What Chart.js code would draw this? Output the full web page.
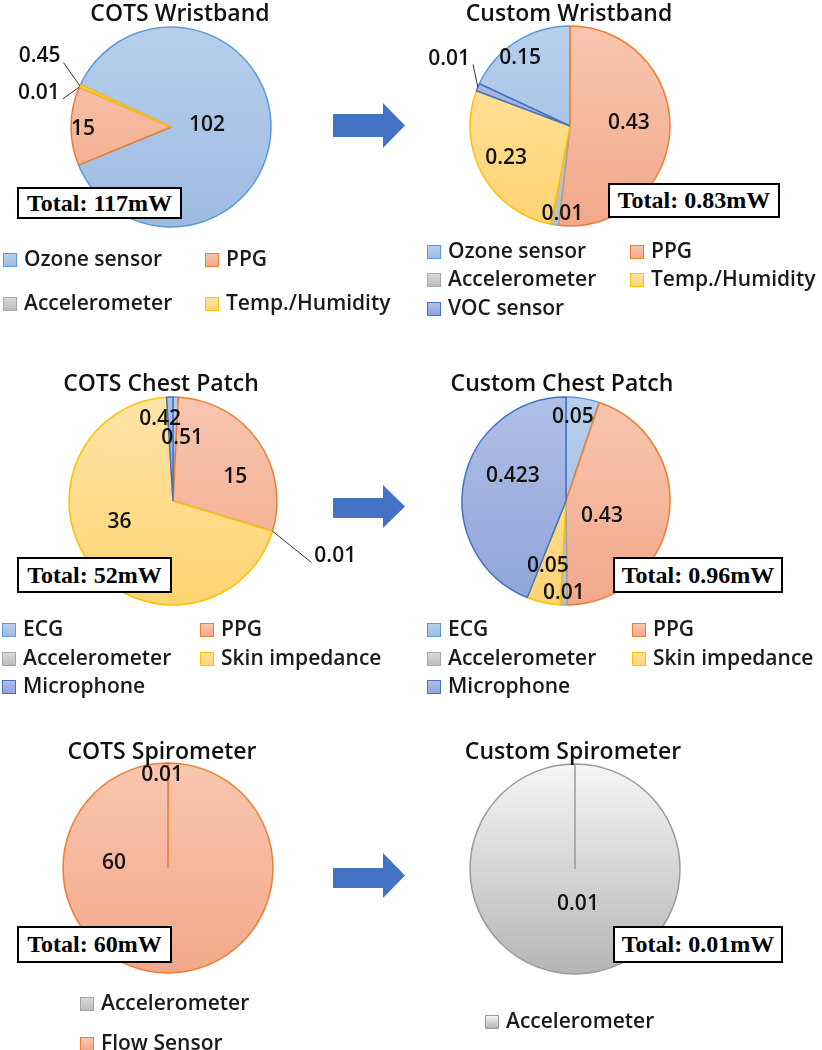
<!DOCTYPE html>
<html>
<head>
<meta charset="utf-8">
<script src="https://cdn.jsdelivr.net/npm/chart.js@4.4.1/dist/chart.umd.min.js"></script>
<style>
body{margin:0;background:#fff;}
#page{position:relative;width:822px;height:1050px;overflow:hidden;font-family:'Open Sans',sans-serif;color:#111;}
#page canvas{position:absolute;}
.title{position:absolute;width:400px;text-align:center;font-size:23px;font-weight:600;line-height:24px;white-space:nowrap;}
.total{position:absolute;box-sizing:border-box;border:2px solid #000;background:#fff;font:bold 24px 'Liberation Serif',serif;display:flex;align-items:center;justify-content:center;color:#000;}
.leg{position:absolute;font-size:21px;font-weight:600;line-height:24px;white-space:nowrap;color:#1a1a1a;}
.leg i{display:inline-block;box-sizing:border-box;width:14px;height:14px;border:1px solid;margin-right:7px;vertical-align:-1px;}
#arrows{position:absolute;left:0;top:0;}
</style>
</head>
<body>
<div id="page"></div>
<script>
// power draw per component (mW)
var wristCotsLabels = ['Ozone sensor', 'PPG', 'Accelerometer', 'Temp./Humidity'];
var wristCotsValues = [102, 15, 0.01, 0.45];
var wristCustomLabels = ['Ozone sensor', 'PPG', 'Accelerometer', 'Temp./Humidity', 'VOC sensor'];
var wristCustomValues = [0.15, 0.43, 0.01, 0.23, 0.01];
var chestLabels = ['ECG', 'PPG', 'Accelerometer', 'Skin impedance', 'Microphone'];
var chestCotsValues = [0.42, 15, 0.01, 36, 0.51];
var chestCustomValues = [0.05, 0.43, 0.01, 0.05, 0.423];
var spiroCotsLabels = ['Accelerometer', 'Flow Sensor'];
var spiroCotsValues = [0.01, 60];
var spiroCustomLabels = ['Accelerometer'];
var spiroCustomValues = [0.01];

var titles = ['COTS Wristband', 'Custom Wristband', 'COTS Chest Patch', 'Custom Chest Patch', 'COTS Spirometer', 'Custom Spirometer'];
var totals = ['Total: 117mW', 'Total: 0.83mW', 'Total: 52mW', 'Total: 0.96mW', 'Total: 60mW', 'Total: 0.01mW'];

// [top of gradient, bottom of gradient, border]
var blue = ['#b8cfec', '#9dbbe2', '#5b9bd5'];
var orange = ['#f8c6b0', '#f2a88a', '#ed7d31'];
var grey = ['#d9d9d9', '#bdbdbd', '#a5a5a5'];
var yellow = ['#ffe4a8', '#ffd471', '#ffc000'];
var navy = ['#b0bfe6', '#8fa4d8', '#4472c4'];
var palette = {
  'Ozone sensor': blue, 'ECG': blue,
  'PPG': orange, 'Flow Sensor': orange,
  'Accelerometer': grey,
  'Temp./Humidity': yellow, 'Skin impedance': yellow,
  'VOC sensor': navy, 'Microphone': navy
};
var silver = ['#f5f6f8', '#b5b5b5', '#9a9a9a'];

// label placement: [fraction of radius along slice middle, dx, dy, leader line]
var panels = [
  {labels: wristCotsLabels, values: wristCotsValues, rot: -65, cx: 171, cy: 127, r: 100,
   tx: 180, ty: 12, box: [17, 187, 165, 32], cols: [3, 205], rows: [258, 302],
   lab: [[0.36, 0, -3], [0.88, 0, 3], [1.3, -13, 18, true], [1.3, -13, -17, true]]},
  {labels: wristCustomLabels, values: wristCustomValues, rot: -65, cx: 570, cy: 126, r: 100,
   tx: 569, ty: 12, box: [608, 183, 172, 35], cols: [427, 630], rows: [250, 278, 307],
   lab: [[0.8, -7, 0], [0.59, 0, -6], [0.89, 6, 0], [0.72, -1, -3], [1.3, -1, -17, true]]},
  {labels: chestLabels, values: chestCotsValues, rot: 0, cx: 173, cy: 501, r: 104,
   tx: 161, ty: 382, box: [17, 557, 155, 36], cols: [2, 200], rows: [628, 657, 685],
   lab: [[0.79, -15, 0], [0.65, 7, 15], [1.5, 13, 10, true], [0.62, -3, -19], [0.61, 11, 0]]},
  {labels: chestLabels, values: chestCustomValues, rot: 0, cx: 566, cy: 501, r: 104,
   tx: 562, ty: 382, box: [613, 557, 170, 36], cols: [427, 632], rows: [628, 657, 685],
   lab: [[0.82, -7, 0], [0.37, -2, 9], [0.885, 0, 0], [0.67, -3, -3], [0.55, 3, -14]]},
  {labels: spiroCotsLabels, values: spiroCotsValues, rot: 0, cx: 168, cy: 868, r: 105,
   tx: 162, ty: 750, box: [17, 926, 155, 37], cols: [80], rows: [1002, 1042],
   lab: [[0.89, -6, 0], [0, -54, -5]]},
  {labels: spiroCustomLabels, values: spiroCustomValues, rot: 0, cx: 575, cy: 869, r: 105,
   tx: 573, ty: 750, box: [613, 926, 170, 37], cols: [485], rows: [1020],
   lab: [[0.33, 3, 0]], silver: true}
];

var pieLabels = {
  id: 'pieLabels',
  afterDatasetsDraw: function(chart, args, opts) {
    var ctx = chart.ctx;
    var meta = chart.getDatasetMeta(0);
    var vals = chart.data.datasets[0].data;
    ctx.save();
    ctx.font = '600 21px "Open Sans"';
    ctx.fillStyle = '#111';
    ctx.textAlign = 'center';
    ctx.textBaseline = 'middle';
    meta.data.forEach(function(arc, i) {
      var p = opts.pos[i];
      var a = arc.getProps(['x', 'y', 'startAngle', 'endAngle', 'outerRadius'], true);
      var mid = (a.startAngle + a.endAngle) / 2;
      var lx = a.x + Math.cos(mid) * a.outerRadius * p[0] + p[1];
      var ly = a.y + Math.sin(mid) * a.outerRadius * p[0] + p[2];
      var txt = String(vals[i]);
      if (p[3]) {
        var w = ctx.measureText(txt).width;
        var ex = a.x + Math.cos(mid) * a.outerRadius;
        var ey = a.y + Math.sin(mid) * a.outerRadius;
        var side = ex > lx ? 1 : -1;
        ctx.beginPath();
        ctx.moveTo(ex, ey);
        ctx.lineTo(lx + side * (w / 2 + 3), ly + 6);
        ctx.strokeStyle = '#333';
        ctx.lineWidth = 1;
        ctx.stroke();
      }
      ctx.fillText(txt, lx, ly);
    });
    ctx.restore();
  }
};

function colorsOf(p, label) {
  return p.silver ? silver : palette[label];
}

function makeFill(p) {
  return function(c) {
    var area = c.chart.chartArea;
    if (!area) return null;
    var col = colorsOf(p, p.labels[c.dataIndex]);
    var mid = (area.top + area.bottom) / 2;
    var g = c.chart.ctx.createLinearGradient(0, mid - p.r, 0, mid + p.r);
    g.addColorStop(0, col[0]);
    g.addColorStop(1, col[1]);
    return g;
  };
}

var page = document.getElementById('page');
var CW = 440, CH = 300;

panels.forEach(function(p, k) {
  var cv = document.createElement('canvas');
  cv.width = CW; cv.height = CH;
  cv.style.left = (p.cx - CW / 2) + 'px';
  cv.style.top = (p.cy - CH / 2) + 'px';
  page.appendChild(cv);

  new Chart(cv, {
    type: 'pie',
    data: {
      labels: p.labels,
      datasets: [{
        data: p.values,
        backgroundColor: makeFill(p),
        borderColor: p.labels.map(function(l) { return colorsOf(p, l)[2]; }),
        borderWidth: 1.5
      }]
    },
    options: {
      responsive: false,
      animation: false,
      events: [],
      radius: p.r,
      rotation: p.rot,
      layout: {padding: 0},
      plugins: {
        legend: {display: false},
        tooltip: {enabled: false},
        pieLabels: {pos: p.lab}
      }
    },
    plugins: [pieLabels]
  });
});

// titles, totals and legends on top of the canvases
panels.forEach(function(p, k) {
  var t = document.createElement('div');
  t.className = 'title';
  t.textContent = titles[k];
  t.style.left = (p.tx - 200) + 'px';
  t.style.top = (p.ty - 12) + 'px';
  page.appendChild(t);

  var b = document.createElement('div');
  b.className = 'total';
  b.textContent = totals[k];
  b.style.left = p.box[0] + 'px';
  b.style.top = p.box[1] + 'px';
  b.style.width = p.box[2] + 'px';
  b.style.height = p.box[3] + 'px';
  page.appendChild(b);

  p.labels.forEach(function(l, i) {
    var col = colorsOf(p, l);
    var d = document.createElement('div');
    d.className = 'leg';
    d.style.left = p.cols[i % p.cols.length] + 'px';
    d.style.top = (p.rows[Math.floor(i / p.cols.length)] - 12) + 'px';
    var sq = document.createElement('i');
    sq.style.background = 'linear-gradient(' + col[0] + ',' + col[1] + ')';
    sq.style.borderColor = col[2];
    d.appendChild(sq);
    d.appendChild(document.createTextNode(l));
    page.appendChild(d);
  });
});

// arrows between the COTS and custom pies
var arrowRows = [[114, 137, 103, 148], [498, 518, 485, 528], [868, 888, 853, 898]];
var svg = '<svg id="arrows" width="822" height="1050">';
arrowRows.forEach(function(a) {
  var m = (a[2] + a[3]) / 2;
  svg += '<polygon fill="#4472c4" points="333,' + a[0] + ' 383,' + a[0] + ' 383,' + a[2] + ' 405,' + m +
         ' 383,' + a[3] + ' 383,' + a[1] + ' 333,' + a[1] + '"/>';
});
svg += '</svg>';
page.insertAdjacentHTML('beforeend', svg);
</script>
</body>
</html>
